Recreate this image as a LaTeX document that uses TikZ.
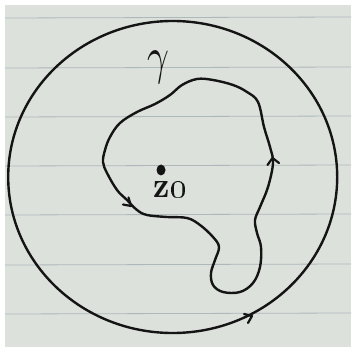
\documentclass[tikz,border=0pt]{standalone}
\usepackage{tikz}
\definecolor{paper}{HTML}{DDE1DC}
\definecolor{rule}{HTML}{AEB8BA}
\definecolor{ink}{HTML}{141414}
\begin{document}
\begin{tikzpicture}[x=1pt,y=-1pt,
  inkline/.style={draw=ink,line width=2.4pt,line cap=round,line join=round},
  tick/.style={draw=ink,line width=2.2pt,line cap=round,line join=round}]
\useasboundingbox (0,0) rectangle (351,352);
\fill[white] (0,0) rectangle (351,352);
\fill[paper] (5,5) rectangle (351,347);
\foreach \yy in {18,68,117,166,215,265,314}
  \draw[rule,line width=0.8pt] (5,\yy) -- (351,\yy-1);
% outer circle
\draw[inkline] (172.7,177) ellipse [x radius=164.5, y radius=156];
% inner curve gamma
\draw[inkline] plot[smooth cycle, tension=0.6] coordinates {
 (197,79) (213,80) (233,85) (247,92) (258,102) (264,127) (270,147) (273,163)
 (268,187) (260,207) (255,220) (257,233) (261,247) (260,267) (253,283)
 (240,292) (223,292) (213,285) (211,273) (215,260) (219,247) (213,237)
 (200,225) (187,218) (167,217) (147,215) (137,210) (127,200) (117,190)
 (107,173) (103,162) (105,150) (110,137) (120,123) (137,112) (155,104)
 (170,95) (182,85)};
% arrowheads
\coordinate (a1) at (272.5,158);
\draw[tick] (267.5,165) -- (a1) -- (279,163);
\coordinate (a2) at (131,206);
\draw[tick] (123,204.5) -- (a2) -- (128.5,197.5);
\coordinate (a3) at (252,316);
\draw[tick] (244,314) -- (a3) -- (248,323);
% point z0
\fill[ink] (161,170) ellipse [x radius=4.5, y radius=5.5];
\node[text=ink, inner sep=0pt] (z0) at (170,190) {\scalebox{3.2}[3.6]{\bfseries\boldmath z\oldstylenums{0}}};
\node[text=ink, inner sep=0pt] (g) at (158,67) {\scalebox{3.8}[5.2]{$\gamma$}};
\end{tikzpicture}
\end{document}
